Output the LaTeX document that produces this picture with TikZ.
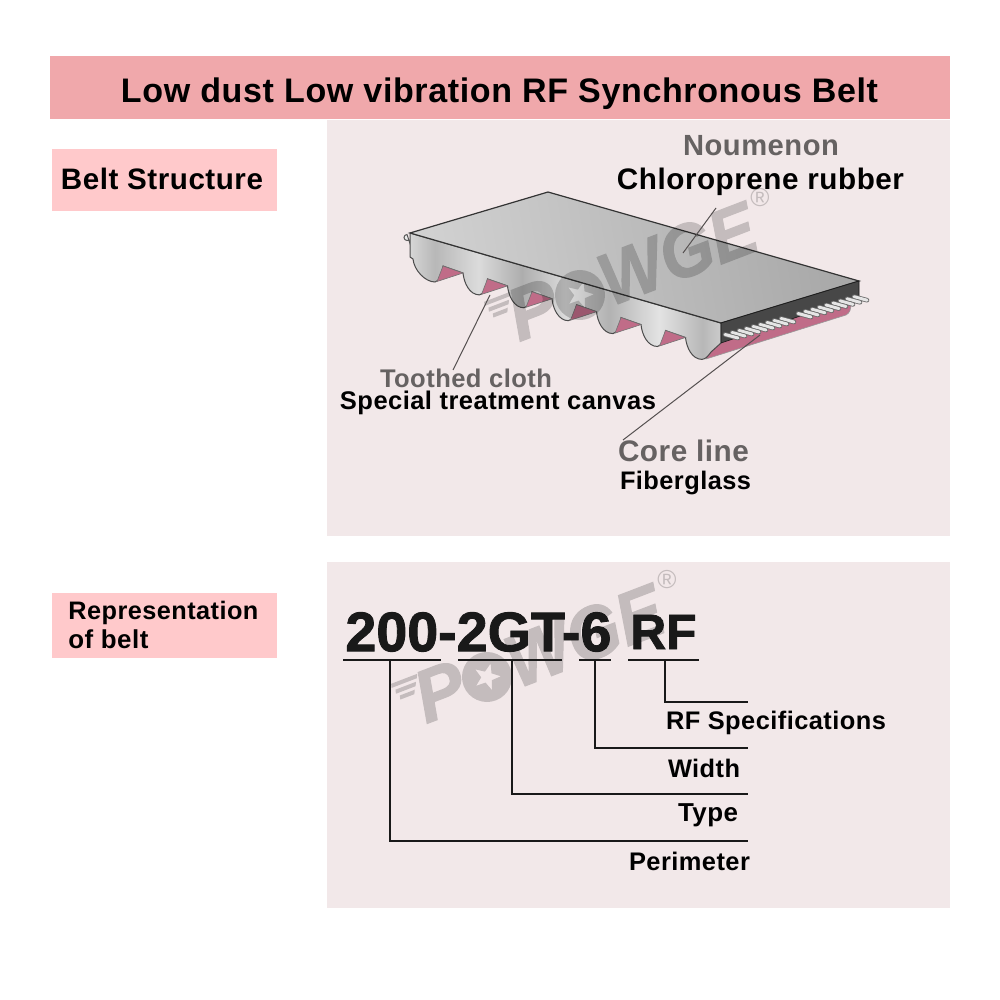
\documentclass[tikz,border=0pt]{standalone}
\usepackage{fontspec}
\usepackage{graphicx}
\setmainfont{Liberation Sans}
\usetikzlibrary{calc}
\newfontfamily\heavyfont[UprightFont=* Bold,FakeBold=1.6]{Liberation Sans}
\newfontfamily\wmfont[UprightFont=* Bold Italic,FakeBold=1.5]{Liberation Sans}
\newlength\fitlen
\newcommand{\fitw}[2]{\setlength\fitlen{#1pt}\resizebox{0.5\fitlen}{!}{\bfseries\addfontfeature{LetterSpace=1.8}#2}}
\definecolor{headpink}{HTML}{F0A8AB}
\definecolor{labelpink}{HTML}{FFC9CB}
\definecolor{panelbg}{HTML}{F2E8E9}
\definecolor{graytext}{HTML}{666262}
\definecolor{toothpink}{HTML}{C06C88}
\definecolor{leader}{HTML}{555050}
\pgfdeclarehorizontalshading{teeth}{100bp}{
 color(0bp)=(black!34); color(8bp)=(black!24); color(14bp)=(black!30);
 color(22bp)=(black!7); color(29bp)=(black!28); color(36bp)=(black!14);
 color(43bp)=(black!32); color(50bp)=(black!14); color(57bp)=(black!30);
 color(65bp)=(black!11); color(72bp)=(black!28); color(79bp)=(black!10);
 color(86bp)=(black!30); color(94bp)=(black!13); color(100bp)=(black!26)}
\tikzset{
 band/.style={fill=#1,draw=none},
 lbl/.style={inner sep=0pt,anchor=center,text=black},
 lblgray/.style={inner sep=0pt,anchor=center,text=graytext},
 rule/.style={draw=black!90,line width=1pt},
 leaderline/.style={draw=leader,line width=0.5pt},
 wmark/.style={inner sep=0pt,text=black,font=\wmfont,transform shape},
 wmarkfill/.style={fill=black,draw=none},
 rodbody/.style={line cap=round,line width=2.3pt,draw=black!58},
 rodlight/.style={line cap=round,line width=1.5pt,draw=black!10},
}
\def\toothpart{.. controls +(6,-1) and +(-1,6) .. ++(8,-16) -- ++(20,7) .. controls +(1,10) and +(-10,0) .. ++(16.5,21.9) }
\newcommand{\wm}[3]{%
 \begin{scope}[transparency group,opacity=0.19]
 \begin{scope}[shift={(#1,#2)},rotate=21]
  \path[wmarkfill,even odd rule] (0,0) circle[radius=25]
   (90:14) -- (126:5.8) -- (162:14) -- (198:5.8) -- (234:14) -- (270:5.8) -- (306:14) -- (342:5.8) -- (18:14) -- (54:5.8) -- cycle;
  \node[wmark,anchor=base east] (#3p) at (-24,22) {\fontsize{37}{37}\selectfont P};
  \node[wmark,anchor=base west] (#3w) at (24,22) {\scalebox{0.92}[1]{\fontsize{37}{37}\selectfont WGE}};
  \path[wmarkfill] (-92,-28) -- (-64,-28) -- (-66,-24) -- (-93,-24) -- cycle
                   (-90,-21) -- (-68,-21) -- (-70,-17) -- (-91,-17) -- cycle
                   (-88,-14) -- (-72,-14) -- (-74,-10) -- (-89,-10) -- cycle;
 \end{scope}
 \node[inner sep=0pt,text=black] (#3r) at ($(#1,#2)+(180,-97)$) {\fontsize{13}{13}\selectfont ®};
 \end{scope}
}
\begin{document}
\begin{tikzpicture}[x=0.5pt,y=-0.5pt]
\useasboundingbox (0,0) rectangle (1000,1000);
% bands
\path[band=headpink] (50,56) rectangle (950,119);
\path[band=panelbg] (327,120) rectangle (950,536);
\path[band=panelbg] (327,562) rectangle (950,908);
\path[band=labelpink] (52,149) rectangle (277,211);
\path[band=labelpink] (52,593) rectangle (277,658);
% belt: stub, pink strip, side, top, end
\draw[draw=black!65,fill=black!8,line width=0.5pt] (411,240) -- (407,240.5) arc[start angle=90,end angle=270,radius=3] -- (411,246.5) -- cycle;
\path[fill=toothpink,draw=black!40,line width=0.3pt] (706,359) -- (846,315) .. controls (850,313) and (851,309) .. (851,303) -- (851,290) -- (721,335) -- (708,350) -- cycle;
\path[shading=teeth,draw=black!70,line width=0.5pt]
 (410,233) -- (410,257) -- (413,259) .. controls (414,270) and (425,282) .. (435,282)
 \toothpart\toothpart\toothpart\toothpart\toothpart\toothpart
 .. controls (706,359) and (708,356) .. (711,352) -- (721,343) -- (721,323) -- cycle;
\foreach \i in {0,...,5}
 \path[fill=toothpink,draw=black!55,line width=0.3pt] ({437+44.5*\i},{281.5+12.9*\i}) -- ++(6,-15.5) -- ++(20,7) -- cycle;
\path[left color=black!18,right color=black!34,shading angle=100,draw=black!80,line width=0.6pt]
 (410,233) -- (548,192) -- (859,281) -- (721,323) -- cycle;
\path[fill=black!72,draw=black!90,line width=0.3pt] (721,323) -- (859,281) -- (859,296) -- (721,343) -- cycle;
\foreach \i in {8,7,...,0} {
 \draw[rodbody] ({738-13+7*\i},{338-3.5-2*\i}) -- ({738+7*\i},{338-2*\i});
 \draw[rodlight] ({738-13+7*\i},{338-3.5-2*\i}) -- ({738+7*\i},{338-2*\i});
 \draw[rodbody] ({811-13+7*\i},{317-3.5-2.1*\i}) -- ({811+7*\i},{317-2.1*\i});
 \draw[rodlight] ({811-13+7*\i},{317-3.5-2.1*\i}) -- ({811+7*\i},{317-2.1*\i});
}
% watermarks
\wm{580}{295}{wa}
\wm{487}{677}{wb}
% leader lines
\coordinate (chlA) at (716,208); \coordinate (chlB) at (683,253);
\coordinate (toothA) at (490,295); \coordinate (toothB) at (453,370);
\coordinate (coreA) at (760,335); \coordinate (coreB) at (623,440);
\draw[leaderline] (chlA) -- (chlB);
\draw[leaderline] (toothA) -- (toothB);
\draw[leaderline] (coreA) -- (coreB);
% texts
\node[lbl] (title) at (499.5,94) {\fitw{757}{Low dust Low vibration RF Synchronous Belt}};
\node[lbl] (beltstruct) at (162,179) {\fitw{202}{Belt Structure}};
\node[lblgray] (noumenon) at (761,146) {\fitw{156}{Noumenon}};
\node[lbl] (chloro) at (760.5,182) {\fitw{287}{Chloroprene rubber}};
\node[lblgray] (toothed) at (466,378) {\fitw{172}{Toothed cloth}};
\node[lbl] (special) at (498,403) {\fitw{316}{Special treatment canvas}};
\node[lblgray] (core) at (683.5,451) {\fitw{131}{Core line}};
\node[lbl] (fiber) at (685.5,483) {\fitw{131}{Fiberglass}};
\node[lbl,anchor=west] (repr) at (68,613) {\fitw{190}{Representation}};
\node[lbl,anchor=west] (ofbelt) at (68,639) {\fitw{80}{of belt}};
\node[lbl,anchor=west,text=black!90] (code) at (345,632) {\resizebox{133pt}{!}{\heavyfont 200-2GT-6}};
\node[lbl,anchor=west,text=black!90] (rf) at (630,632) {\resizebox{33pt}{!}{\heavyfont RF}};
\node[lbl] (rfspec) at (776,723) {\fitw{220}{RF Specifications}};
\node[lbl] (width) at (704,768) {\fitw{72}{Width}};
\node[lbl] (type) at (708,815) {\fitw{60}{Type}};
\node[lbl] (perim) at (689.5,861) {\fitw{121}{Perimeter}};
% code rules
\coordinate (uaL) at (343,660); \coordinate (uaR) at (441,660);
\coordinate (ubL) at (458,660); \coordinate (ubR) at (562,660);
\coordinate (ucL) at (579,660); \coordinate (ucR) at (611,660);
\coordinate (udL) at (628,660); \coordinate (udR) at (699,660);
\draw[rule] (uaL) -- (uaR);
\draw[rule] (ubL) -- (ubR);
\draw[rule] (ucL) -- (ucR);
\draw[rule] (udL) -- (udR);
\coordinate (pa) at (390,660); \coordinate (pb) at (512,660); \coordinate (pc) at (595,660); \coordinate (pd) at (665,660);
\coordinate (ea) at (748,841); \coordinate (eb) at (748,794); \coordinate (ec) at (748,748); \coordinate (ed) at (748,702);
\draw[rule] (pa) |- (ea);
\draw[rule] (pb) |- (eb);
\draw[rule] (pc) |- (ec);
\draw[rule] (pd) |- (ed);
\end{tikzpicture}
\end{document}
